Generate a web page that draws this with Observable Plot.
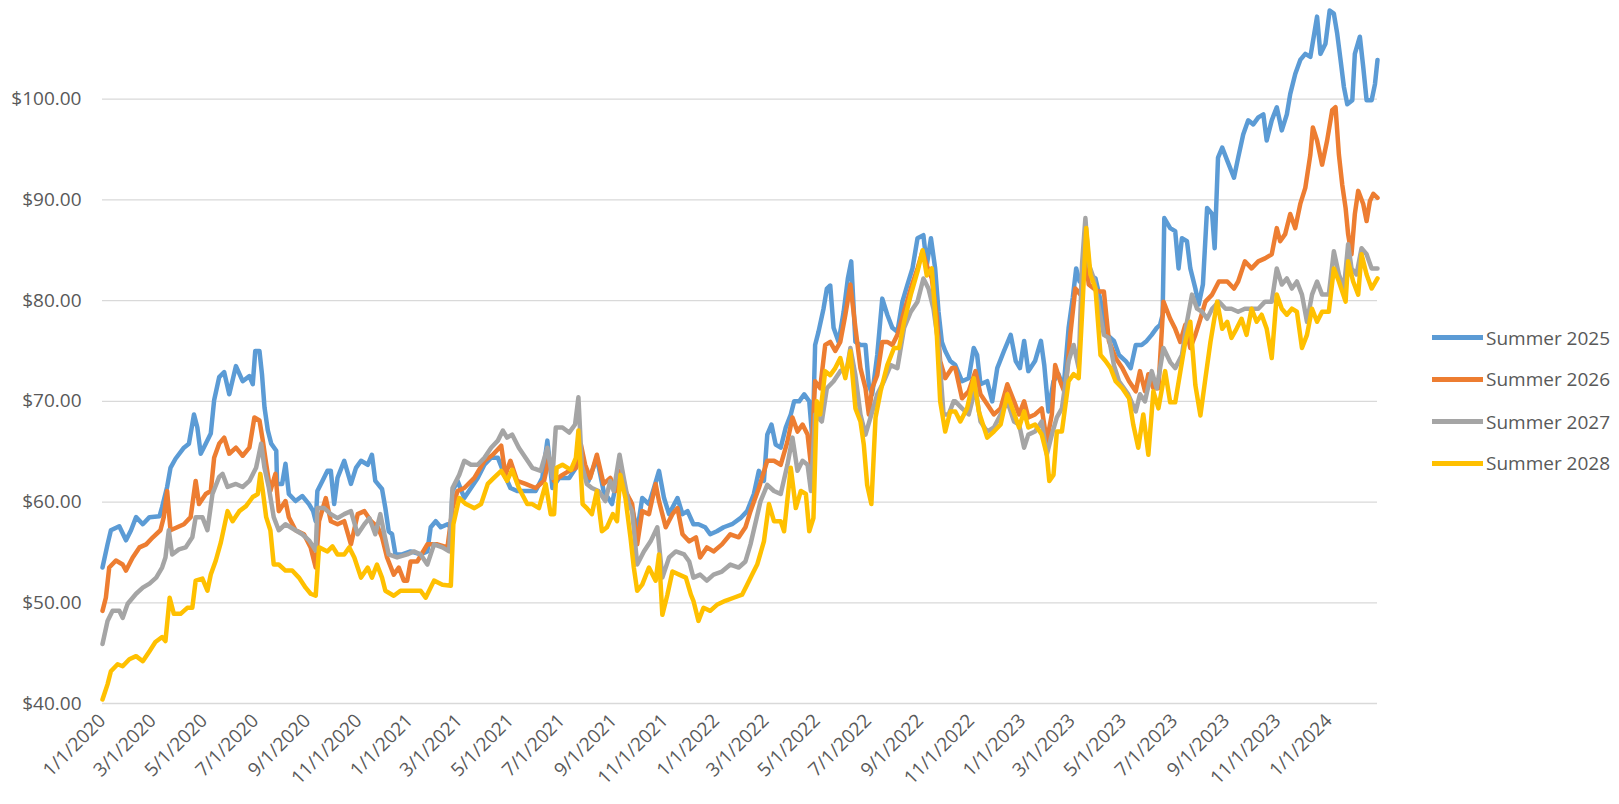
<!DOCTYPE html>
<html><head><meta charset="utf-8">
<script src="https://cdn.jsdelivr.net/npm/d3@7"></script>
<script src="https://cdn.jsdelivr.net/npm/@observablehq/plot@0.6"></script>
<style>
body{margin:0;background:#fff;font-family:"Open Sans",sans-serif;}
#wrap{position:relative;width:1619px;height:804px;overflow:hidden;}
#legend{position:absolute;left:1432px;top:0;}
.item{position:absolute;left:0;display:flex;align-items:center;white-space:nowrap;font-size:19px;line-height:26px;color:#595959;}
.sw{width:51px;height:5px;margin-right:3px;}
</style></head><body><div id="wrap"><div id="chart"></div><div id="legend"></div></div>
<script>
// Series names and colours
const seriesNames = ["Summer 2025", "Summer 2026", "Summer 2027", "Summer 2028"];
const seriesColors = ["#5B9BD5", "#ED7D31", "#A5A5A5", "#FFC000"];
// Each point: [days since 1/1/2020, price]
const s2025 = [[0,53.5],[6,55.8],[10,57.2],[20,57.6],[28,56.2],[34,57.2],[40,58.5],[48,57.8],[56,58.5],[68,58.6],[71,59.5],[77,61.5],[81,63.4],[87,64.3],[97,65.4],[103,65.8],[109,68.7],[113,67.4],[117,64.8],[123,65.8],[129,66.8],[133,70.1],[139,72.4],[145,72.9],[151,70.7],[159,73.5],[167,72.0],[175,72.5],[179,71.7],[182,75.0],[187,75.0],[190,72.7],[193,69.4],[197,67.1],[201,65.8],[207,65.1],[208,61.8],[214,61.8],[218,63.8],[222,60.8],[230,60.1],[238,60.6],[246,59.8],[251,59.1],[254,58.1],[256,61.1],[262,62.1],[268,63.1],[272,63.1],[276,59.8],[280,62.4],[288,64.1],[296,61.8],[302,63.4],[308,64.1],[316,63.7],[321,64.7],[325,62.1],[333,61.3],[337,59.4],[341,57.1],[345,56.8],[349,54.8],[357,54.8],[367,55.1],[379,54.8],[387,55.1],[391,57.5],[397,58.1],[403,57.5],[411,57.8],[415,57.5],[417,61.1],[423,62.1],[431,60.4],[439,61.4],[447,62.4],[455,63.7],[463,64.4],[471,64.4],[479,62.7],[486,61.4],[494,61.1],[502,61.1],[516,61.1],[524,62.4],[530,66.1],[536,61.4],[544,62.4],[556,62.4],[564,63.4],[568,64.7],[573,63.1],[579,62.1],[589,64.4],[597,61.1],[607,59.8],[615,63.1],[623,60.8],[629,60.1],[637,57.1],[643,60.4],[651,59.8],[657,61.4],[663,63.1],[669,60.4],[675,58.8],[685,60.4],[691,58.8],[697,59.1],[704,57.8],[710,57.8],[718,57.5],[724,56.8],[732,57.1],[740,57.5],[750,57.8],[760,58.4],[768,59.1],[776,60.8],[782,63.1],[788,62.1],[792,66.7],[797,67.7],[802,65.7],[808,65.4],[814,67.4],[820,68.7],[824,70.0],[830,70.0],[836,70.7],[842,70.0],[846,66.0],[849,75.6],[853,76.9],[859,79.2],[863,81.2],[867,81.5],[871,77.3],[877,75.9],[883,78.9],[888,82.2],[892,83.9],[897,75.9],[903,75.6],[909,75.6],[913,71.6],[917,70.7],[923,74.6],[929,80.2],[935,78.6],[941,77.3],[947,76.9],[953,79.9],[959,81.6],[965,83.2],[971,86.2],[978,86.5],[982,83.5],[987,86.2],[992,83.2],[996,78.9],[1000,75.9],[1004,75.0],[1010,74.0],[1016,73.6],[1024,72.0],[1032,72.3],[1038,75.3],[1042,74.6],[1046,71.7],[1054,72.0],[1060,70.0],[1066,73.3],[1074,75.0],[1082,76.6],[1088,74.0],[1093,73.3],[1098,76.0],[1103,73.0],[1111,74.0],[1118,76.0],[1122,73.6],[1127,69.0],[1133,72.0],[1139,72.7],[1145,71.3],[1151,77.3],[1156,80.3],[1160,83.2],[1164,81.9],[1169,83.0],[1175,82.6],[1183,82.2],[1191,79.3],[1197,76.6],[1205,76.0],[1211,74.6],[1219,74.0],[1225,73.3],[1231,75.6],[1238,75.6],[1244,76.0],[1250,76.6],[1256,77.3],[1260,77.6],[1263,78.6],[1265,88.2],[1272,87.2],[1278,86.9],[1282,83.2],[1286,86.2],[1292,85.9],[1296,83.2],[1302,81.2],[1306,79.6],[1311,81.6],[1316,89.2],[1322,88.6],[1325,85.2],[1329,94.2],[1334,95.2],[1340,93.9],[1348,92.2],[1353,94.2],[1359,96.5],[1365,97.9],[1371,97.5],[1377,98.2],[1383,98.5],[1387,95.9],[1393,97.9],[1399,99.2],[1405,96.9],[1411,98.5],[1415,100.5],[1421,102.5],[1427,103.9],[1433,104.5],[1439,104.2],[1443,106.2],[1447,108.2],[1451,104.5],[1457,105.5],[1462,108.8],[1467,108.5],[1471,106.5],[1475,103.9],[1479,101.2],[1483,99.5],[1489,99.9],[1492,104.5],[1498,106.2],[1502,103.2],[1506,99.9],[1512,99.9],[1516,101.5],[1519,103.9]];
const s2026 = [[0,49.2],[4,50.5],[8,53.5],[16,54.2],[24,53.8],[28,53.2],[36,54.5],[44,55.5],[52,55.8],[60,56.5],[69,57.2],[73,58.5],[77,61.1],[81,57.2],[89,57.5],[97,57.8],[105,58.5],[111,62.1],[115,59.8],[123,60.8],[129,61.1],[133,64.4],[139,65.8],[145,66.4],[151,64.8],[159,65.4],[167,64.6],[175,65.4],[181,68.4],[187,68.1],[191,66.1],[195,63.8],[200,61.1],[206,62.8],[210,59.1],[218,60.1],[222,58.5],[230,57.2],[240,56.8],[248,55.5],[254,53.5],[258,58.1],[266,60.4],[272,58.1],[280,57.8],[288,58.1],[296,55.8],[304,58.8],[312,59.1],[320,58.1],[328,57.5],[333,56.5],[339,54.5],[347,52.8],[353,53.5],[359,52.2],[363,52.2],[367,54.1],[375,54.1],[387,55.8],[399,55.8],[411,55.5],[417,59.4],[423,61.1],[431,61.4],[443,62.4],[455,64.1],[465,64.7],[475,65.6],[480,62.7],[486,64.1],[494,62.1],[504,61.8],[516,61.4],[526,62.1],[532,64.4],[538,62.1],[548,62.7],[556,63.1],[564,63.4],[570,65.7],[575,63.7],[581,62.4],[589,64.7],[597,61.8],[605,62.4],[611,61.1],[617,63.1],[623,61.1],[631,59.8],[637,55.8],[643,59.1],[651,58.8],[659,61.8],[663,60.1],[671,57.5],[679,58.8],[685,59.4],[691,56.8],[699,56.1],[707,56.5],[712,54.5],[720,55.5],[728,55.1],[738,55.8],[748,56.8],[758,56.5],[766,57.5],[772,59.1],[782,61.4],[792,64.1],[800,64.1],[808,63.7],[816,66.0],[822,68.4],[828,67.0],[834,67.7],[840,66.7],[844,63.7],[849,72.0],[855,71.3],[861,75.6],[867,75.9],[873,75.0],[879,75.9],[885,78.6],[891,81.6],[897,77.3],[903,73.3],[909,71.3],[913,68.7],[917,71.3],[923,72.6],[929,75.9],[935,75.9],[941,75.6],[947,76.6],[955,78.9],[963,81.2],[971,83.2],[977,84.9],[982,83.5],[988,82.2],[994,78.3],[998,74.0],[1004,72.3],[1012,73.3],[1016,73.3],[1024,70.3],[1032,71.0],[1040,73.0],[1046,70.7],[1054,69.7],[1062,68.7],[1070,69.3],[1078,71.7],[1086,70.0],[1092,68.7],[1098,70.0],[1103,68.4],[1111,68.7],[1119,69.3],[1125,66.0],[1131,68.7],[1135,73.6],[1141,72.0],[1147,70.7],[1153,76.6],[1159,81.2],[1165,80.6],[1171,84.5],[1175,81.6],[1181,81.2],[1187,80.9],[1193,80.9],[1199,76.0],[1207,74.3],[1215,73.3],[1223,72.0],[1231,71.0],[1236,73.0],[1242,71.0],[1246,72.7],[1252,71.3],[1258,71.3],[1264,79.9],[1272,78.2],[1278,77.2],[1284,75.9],[1290,77.6],[1296,75.3],[1302,76.6],[1308,78.2],[1314,79.9],[1322,80.6],[1330,81.9],[1340,81.9],[1348,81.2],[1353,81.9],[1361,83.9],[1369,83.2],[1377,83.9],[1385,84.2],[1393,84.6],[1399,87.2],[1403,85.9],[1409,86.6],[1415,88.6],[1421,87.2],[1427,89.6],[1433,91.2],[1439,94.5],[1442,97.2],[1447,95.9],[1453,93.5],[1459,95.9],[1465,98.9],[1469,99.2],[1473,94.5],[1477,91.5],[1481,89.2],[1484,86.6],[1488,84.6],[1492,88.6],[1496,90.9],[1502,89.6],[1506,87.9],[1510,89.9],[1514,90.6],[1519,90.2]];
const s2027 = [[0,45.9],[6,48.2],[12,49.2],[20,49.2],[24,48.5],[30,49.9],[40,50.9],[48,51.5],[56,51.9],[64,52.5],[71,53.5],[75,54.5],[79,57.2],[83,54.8],[91,55.3],[99,55.5],[107,56.5],[111,58.5],[119,58.5],[125,57.2],[131,60.8],[139,62.5],[143,62.8],[149,61.5],[159,61.8],[167,61.5],[175,62.1],[183,63.4],[189,65.8],[193,63.4],[198,61.5],[204,58.5],[210,57.2],[218,57.8],[230,57.2],[238,56.8],[246,56.2],[254,55.2],[256,59.4],[264,59.4],[272,58.8],[280,58.4],[288,58.8],[296,59.1],[304,56.8],[312,57.8],[318,58.4],[325,56.8],[331,58.8],[335,57.1],[341,54.8],[351,54.5],[363,54.8],[371,55.1],[379,54.8],[387,53.8],[395,55.8],[405,55.5],[413,55.1],[417,61.4],[425,62.7],[431,64.1],[439,63.7],[447,63.7],[455,64.4],[463,65.4],[471,66.1],[477,67.1],[482,66.4],[488,66.7],[496,65.4],[504,64.4],[512,63.4],[522,63.1],[530,65.4],[536,62.4],[540,67.4],[548,67.4],[556,66.9],[563,67.7],[567,70.4],[571,63.7],[577,61.8],[583,61.4],[591,61.1],[599,60.1],[605,62.1],[609,61.1],[616,64.7],[621,62.4],[627,59.8],[631,59.1],[637,53.8],[645,55.1],[653,56.1],[661,57.5],[667,52.5],[675,54.5],[683,55.1],[693,54.8],[699,54.1],[704,52.5],[712,52.8],[720,52.2],[728,52.8],[738,53.1],[748,53.8],[758,53.5],[766,54.1],[772,55.8],[784,60.1],[792,61.7],[800,61.1],[808,60.8],[816,63.7],[822,66.4],[828,63.1],[834,64.1],[840,63.7],[844,61.1],[849,68.7],[857,68.0],[863,71.3],[871,72.0],[879,73.0],[887,73.3],[891,75.3],[897,72.6],[903,68.7],[909,66.7],[915,68.4],[923,70.7],[931,72.0],[939,73.6],[947,73.3],[955,77.3],[963,78.9],[971,79.9],[978,82.2],[984,81.2],[990,79.2],[996,75.6],[1002,68.7],[1008,68.7],[1014,70.0],[1016,70.0],[1024,69.3],[1032,68.7],[1040,71.3],[1046,68.0],[1054,67.0],[1062,67.4],[1070,68.7],[1078,70.0],[1086,68.0],[1092,67.7],[1098,65.4],[1103,66.7],[1111,67.0],[1119,68.0],[1125,64.7],[1131,66.7],[1137,68.4],[1143,69.3],[1151,74.0],[1157,75.6],[1163,73.3],[1167,83.6],[1171,88.2],[1175,83.6],[1181,82.2],[1187,79.3],[1193,76.6],[1199,76.3],[1205,73.6],[1211,72.0],[1217,71.3],[1222,70.7],[1231,69.0],[1236,70.7],[1242,70.0],[1250,73.0],[1256,71.3],[1264,75.3],[1272,73.9],[1278,73.3],[1286,74.6],[1292,77.9],[1298,80.6],[1304,79.2],[1310,78.9],[1316,78.2],[1322,79.2],[1330,79.9],[1338,79.2],[1345,79.2],[1353,78.9],[1361,79.2],[1369,79.2],[1377,79.2],[1385,79.9],[1393,79.9],[1399,83.2],[1405,81.6],[1411,82.2],[1417,81.2],[1423,81.9],[1429,80.6],[1435,77.9],[1441,80.6],[1447,81.9],[1453,80.6],[1461,80.6],[1467,84.9],[1473,82.6],[1479,81.2],[1484,85.6],[1488,83.2],[1494,82.6],[1500,85.2],[1506,84.6],[1512,83.2],[1519,83.2]];
const s2028 = [[0,40.4],[6,41.9],[10,43.2],[18,43.9],[24,43.7],[32,44.4],[40,44.7],[48,44.2],[56,45.2],[63,46.1],[71,46.6],[75,46.2],[80,50.5],[85,48.9],[93,48.9],[101,49.5],[107,49.5],[111,52.2],[119,52.4],[125,51.2],[129,52.8],[135,54.2],[141,56.0],[149,59.1],[155,58.1],[163,59.1],[171,59.6],[179,60.5],[185,60.8],[188,62.8],[191,61.1],[195,58.5],[200,57.2],[204,53.8],[210,53.8],[218,53.2],[226,53.2],[234,52.5],[242,51.5],[248,50.9],[254,50.7],[258,55.5],[268,55.1],[274,55.6],[280,54.8],[288,54.8],[294,55.5],[300,54.5],[308,52.5],[316,53.5],[321,52.5],[327,53.8],[333,52.5],[337,51.2],[347,50.7],[355,51.2],[367,51.2],[379,51.2],[385,50.5],[395,52.2],[405,51.8],[415,51.7],[418,57.8],[425,60.4],[433,59.8],[443,59.4],[451,59.8],[459,61.8],[465,62.3],[475,63.1],[482,62.1],[488,63.2],[496,61.4],[506,59.8],[512,59.8],[520,59.4],[528,61.8],[534,58.8],[538,58.8],[541,63.4],[548,63.7],[558,63.2],[564,64.4],[567,67.1],[572,59.8],[577,59.4],[583,58.8],[589,61.1],[595,57.1],[601,57.5],[608,58.8],[613,58.1],[617,62.7],[623,60.4],[629,56.5],[633,53.5],[637,51.2],[643,51.8],[651,53.5],[659,52.2],[663,54.8],[667,48.8],[673,50.8],[679,53.1],[687,52.8],[695,52.5],[701,50.8],[704,50.2],[710,48.2],[716,49.5],[724,49.2],[732,49.8],[742,50.2],[752,50.5],[762,50.8],[768,51.8],[774,52.8],[780,53.8],[788,56.1],[794,59.8],[800,58.1],[808,58.1],[812,57.1],[820,63.4],[826,59.4],[832,61.1],[838,60.8],[842,57.1],[847,58.4],[851,70.0],[855,68.7],[861,73.0],[867,72.6],[873,73.3],[879,74.3],[885,72.3],[891,75.0],[897,69.3],[903,68.0],[907,65.7],[911,61.7],[916,59.8],[921,68.4],[927,71.0],[935,73.6],[943,75.3],[949,75.3],[955,77.9],[963,80.6],[971,82.9],[977,85.0],[982,82.5],[988,83.2],[994,76.6],[998,70.0],[1004,67.0],[1010,69.0],[1016,69.0],[1022,68.0],[1030,69.3],[1038,72.3],[1044,69.0],[1054,66.4],[1062,67.0],[1070,67.7],[1078,70.7],[1084,69.3],[1092,67.4],[1098,69.0],[1103,67.4],[1111,67.7],[1119,66.7],[1125,64.7],[1128,62.1],[1133,62.7],[1137,67.0],[1143,67.0],[1151,72.0],[1157,72.7],[1163,72.3],[1167,78.6],[1172,87.2],[1177,82.6],[1183,81.2],[1189,74.6],[1195,74.0],[1201,73.3],[1207,72.0],[1215,71.3],[1223,70.3],[1228,67.7],[1234,65.4],[1240,68.7],[1246,64.7],[1252,71.0],[1258,69.3],[1266,73.0],[1272,69.9],[1278,69.9],[1284,72.9],[1290,75.9],[1296,77.9],[1302,71.6],[1308,68.6],[1314,72.3],[1320,75.9],[1328,79.9],[1334,77.2],[1340,77.9],[1345,76.3],[1351,77.2],[1357,78.2],[1363,76.6],[1369,79.2],[1375,77.9],[1381,78.6],[1387,77.2],[1393,74.3],[1399,80.6],[1405,79.2],[1411,78.6],[1417,79.2],[1423,78.9],[1429,75.3],[1435,76.6],[1441,79.2],[1447,77.9],[1453,78.9],[1461,78.9],[1467,83.2],[1473,81.9],[1481,79.9],[1484,83.9],[1490,81.9],[1496,80.6],[1500,84.6],[1506,82.6],[1512,81.2],[1519,82.2]];
// Axis ticks
const xTickLabels = ["1/1/2020","3/1/2020","5/1/2020","7/1/2020","9/1/2020","11/1/2020","1/1/2021","3/1/2021","5/1/2021","7/1/2021","9/1/2021","11/1/2021","1/1/2022","3/1/2022","5/1/2022","7/1/2022","9/1/2022","11/1/2022","1/1/2023","3/1/2023","5/1/2023","7/1/2023","9/1/2023","11/1/2023","1/1/2024"];
const yTicks = [40, 50, 60, 70, 80, 90, 100];

const origin = Date.UTC(2020, 0, 1);
const toDate = d => new Date(origin + d * 864e5);
const parseMDY = s => { const [m, d, y] = s.split("/").map(Number); return new Date(Date.UTC(y, m - 1, d)); };
const xTicks = xTickLabels.map(parseMDY);
const fmt = d => `${d.getUTCMonth() + 1}/${d.getUTCDate()}/${d.getUTCFullYear()}`;
const allSeries = [s2025, s2026, s2027, s2028].map(s => s.map(([d, v]) => ({date: toDate(d), value: v})));
const lastDay = d3.max(allSeries.flat(), p => p.date);

const chart = Plot.plot({
  width: 1619, height: 804,
  marginLeft: 102, marginRight: 242, marginTop: 0, marginBottom: 101,
  style: {fontFamily: "'Open Sans', sans-serif", fontSize: "19px", color: "#595959", background: "white", overflow: "visible"},
  x: {type: "utc", domain: [new Date(origin), lastDay]},
  y: {domain: [40, 109.8]},
  marks: [
    Plot.ruleY(yTicks, {stroke: "#d9d9d9", strokeWidth: 1.3}),
    Plot.axisY(yTicks, {tickSize: 0, tickPadding: 21, tickFormat: d => "$" + d.toFixed(2), fontSize: 19, label: null}),
    Plot.axisX(xTicks, {tickSize: 0, tickPadding: 14, tickRotate: -45, tickFormat: fmt, fontSize: 19, label: null}),
    ...allSeries.map((s, i) => Plot.line(s, {x: "date", y: "value", stroke: seriesColors[i], strokeWidth: 4.5, strokeLinejoin: "round", strokeLinecap: "round"}))
  ]
});
document.getElementById("chart").appendChild(chart);

const legend = document.getElementById("legend");
const legendCenters = [337.7, 379, 421.7, 463.3];
seriesNames.forEach((name, i) => {
  const item = document.createElement("div");
  item.className = "item";
  item.style.top = (legendCenters[i] - 13) + "px";
  item.innerHTML = `<span class="sw" style="background:${seriesColors[i]}"></span><span>${name}</span>`;
  legend.appendChild(item);
});
</script>
</body></html>
